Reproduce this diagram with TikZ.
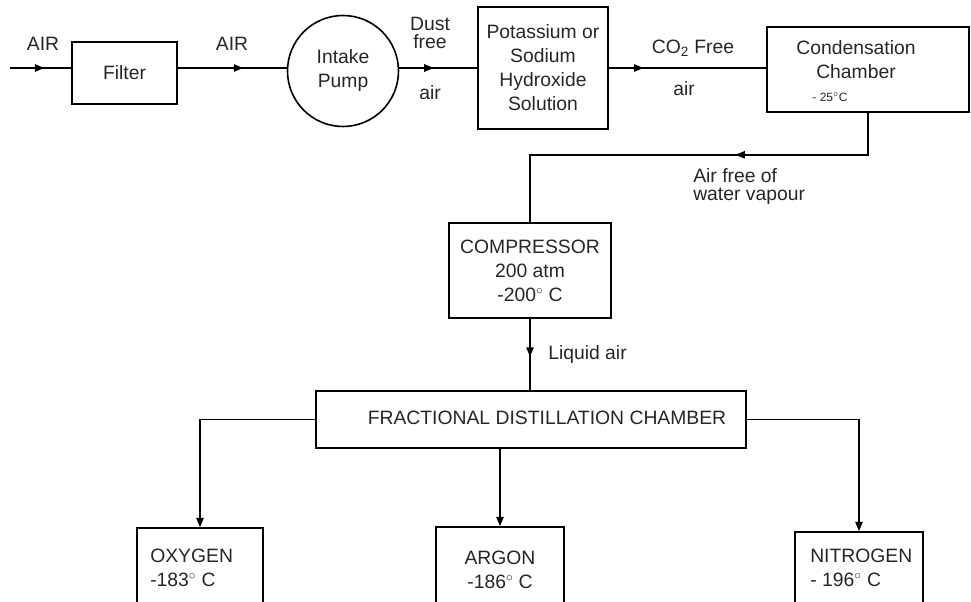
\documentclass[tikz,border=0pt]{standalone}
\usepackage{fontspec}
\setmainfont{Liberation Sans}
\usetikzlibrary{arrows.meta,decorations.markings}
\begin{document}
\begin{tikzpicture}[x=0.75pt,y=-0.75pt,
  every node/.style={font=\fontsize{14.5}{18}\selectfont, inner sep=0pt, text=black!85},
  box/.style={draw=black, line width=1.2pt, inner sep=0pt},
  flow/.style={line width=1.2pt},
  midtip/.style={decoration={markings, mark=at position #1 with {\arrow{Triangle[length=7pt,width=5.5pt]}}}, postaction={decorate}},
  endtip/.style={-{Triangle[length=7pt,width=5.5pt]}}
]
\useasboundingbox (0,0) rectangle (971,602);
\clip (0,0) rectangle (971,602);

% boxes
\node[box, minimum width=78.75pt, minimum height=46.5pt] (filter) at (124.5,73) {Filter};
\node[box, circle, minimum size=83.25pt, align=center] (pump) at (343,71) {Intake\\Pump};
\node[box, minimum width=97.5pt, minimum height=91.5pt, align=center] (naoh) at (543,68) {Potassium or\\Sodium\\Hydroxide\\Solution};
\node[box, minimum width=151.5pt, minimum height=63.75pt] (cond) at (868,69.5) {};
\node[align=center] (condt) at (856,60) {Condensation\\Chamber};
\node[font=\fontsize{9}{10}\selectfont] (condtemp) at (830,97) {- 25$^{\circ}$C};
\node[box, minimum width=121.5pt, minimum height=71.25pt, align=center] (comp) at (530,270.5) {COMPRESSOR\\200 atm\\-200$^{\circ}$ C};
\node[box, minimum width=322.5pt, minimum height=42.75pt] (frac) at (531,419.5) {};
\node (fract) at (547,418) {FRACTIONAL DISTILLATION CHAMBER};
\node[box, minimum width=94.5pt, minimum height=69pt] (oxy) at (200,574) {};
\node[align=left, anchor=west] (oxyt) at (150,568) {OXYGEN\\-183$^{\circ}$ C};
\node[box, minimum width=96pt, minimum height=69.75pt] (arg) at (500,573.5) {};
\node[align=center] (argt) at (500,570) {ARGON\\-186$^{\circ}$ C};
\node[box, minimum width=96pt, minimum height=66pt] (nit) at (859,576) {};
\node[align=left, anchor=west] (nitt) at (810,568) {NITROGEN\\- 196$^{\circ}$ C};

% labels
\node (air1) at (43,44) {AIR};
\node (air2) at (232,44) {AIR};
\node (dust) at (430,24) {Dust};
\node (free) at (430,42) {free};
\node (dustair) at (430,93) {air};
\node (co2) at (693,48) {CO\textsubscript{2} Free};
\node (co2air) at (684,89) {air};
\node[align=left, anchor=west, font=\fontsize{14.5}{13.5}\selectfont] (airfree) at (693,187) {Air free of\\water vapour};
\node[anchor=west] (liq) at (548,355) {Liquid air};

% connectors
\coordinate (airin) at (10,68);
\draw[flow, midtip=0.56] (airin) -- (airin -| filter.west);
\draw[flow, midtip=0.6] (filter.east |- airin) -- (pump.west |- airin);
\draw[flow, midtip=0.44] (pump.east |- airin) -- (naoh.west |- airin);
\draw[flow, midtip=0.22] (naoh.east |- airin) -- (cond.west |- airin);
\draw[flow, midtip=0.39] (cond.south) -- ++(0,42) -| (comp.north);
\draw[flow, midtip=0.53] (comp.south) -- (comp.south |- frac.north);
\draw[flow, endtip] (frac.west) -| (oxy.north);
\draw[flow, endtip] (arg.north |- frac.south) -- (arg.north);
\draw[flow, endtip] (frac.east) -| (nit.north);
\end{tikzpicture}
\end{document}
